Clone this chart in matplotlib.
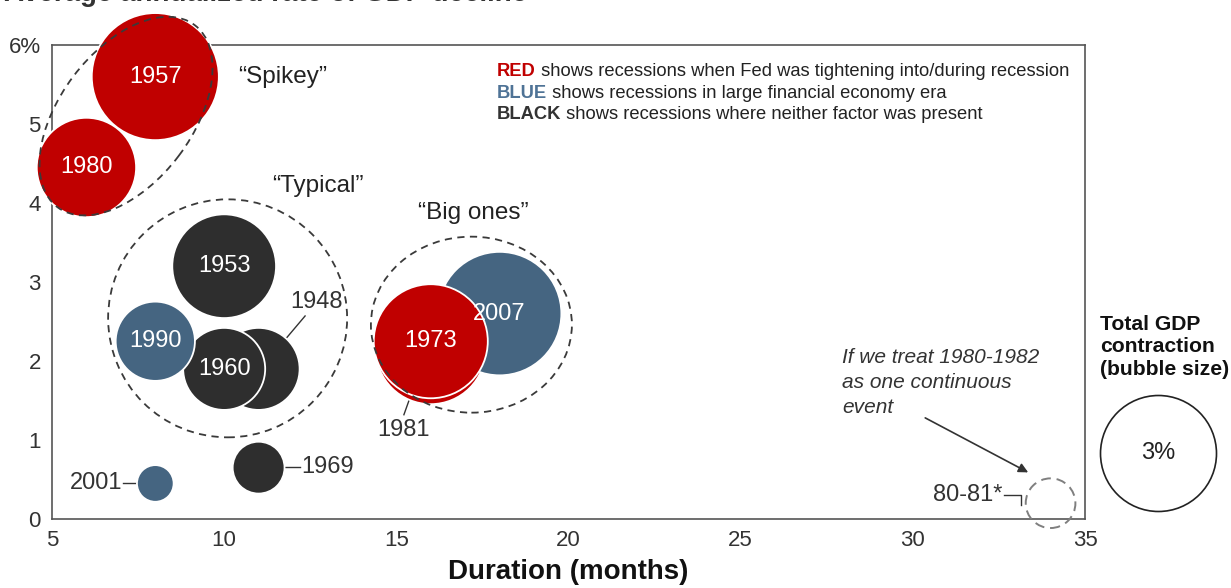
import numpy as np
import matplotlib
matplotlib.use("Agg")
import matplotlib.pyplot as plt
from matplotlib.patches import Ellipse
from matplotlib.transforms import ScaledTranslation

plt.rcParams['font.family'] = ['Liberation Sans', 'DejaVu Sans']

# Recessions, listed in drawing order (later ones sit on top)
years = ["1948", "1960", "1990", "1953", "1957", "1980", "1981", "2007", "1973", "2001", "1969"]
duration = [11, 10, 8, 10, 8, 6, 16, 18, 16, 8, 11]                        # months
rate = [1.9, 1.9, 2.25, 3.2, 5.6, 4.45, 2.15, 2.6, 2.25, 0.45, 0.65]        # avg annualized GDP decline, %
total = [1.5, 1.5, 1.4, 2.4, 3.6, 2.2, 2.7, 3.4, 2.9, 0.3, 0.6]              # total GDP contraction, %
group = ["neither", "neither", "financial", "neither", "tight", "tight",
         "tight", "financial", "tight", "financial", "neither"]
inside_label = [False, True, True, True, True, True, False, True, True, False, False]

# 1980-82 treated as a single event
combined_label = "80-81*"
combined_duration = 34
combined_rate = 0.2
combined_total = 0.55

key_total = 3.0

x_ticks = [5, 10, 15, 20, 25, 30, 35]
y_ticks = [0, 1, 2, 3, 4, 5, 6]
y_ticklabels = ["0", "1", "2", "3", "4", "5", "6%"]

palette = {"tight": "#C00000", "financial": "#456581", "neither": "#2E2E2E"}

W, H, DPI = 1231, 588, 100
fig = plt.figure(figsize=(W / DPI, H / DPI), dpi=DPI)
ax = fig.add_axes([52 / W, 1 - 519 / H, (1085 - 52) / W, (519 - 45) / H])
ax.set_xlim(5, 35)
ax.set_ylim(0, 6)

KEY_RADIUS_PX = 58.0


def marker_area(t):
    """Scatter area (pt^2) so that bubble area is proportional to total contraction."""
    r_px = KEY_RADIUS_PX * np.sqrt(np.asarray(t) / key_total)
    d_pt = 2 * r_px * 72.0 / DPI
    return d_pt ** 2


colors = [palette[g] for g in group]
ax.scatter(duration, rate, s=marker_area(total), c=colors,
           edgecolors="white", linewidths=1.3, clip_on=False, zorder=3)

for yr, x, y, show in zip(years, duration, rate, inside_label):
    if show:
        ax.text(x, y, yr, ha="center", va="center", color="white",
                fontsize=17, zorder=5)

# combined 1980-82 event: dashed outline only
ax.scatter([combined_duration], [combined_rate], s=marker_area([combined_total]),
           facecolors="none", edgecolors="#7F7F7F", linewidths=1.4,
           linestyles=(0, (5, 3)), clip_on=False, zorder=3)

# dashed rings grouping recession types (sizes in pixels, anchored in data coords)
def ring(cx, cy, w_px, h_px, angle=0.0):
    tr = fig.dpi_scale_trans + ScaledTranslation(cx, cy, ax.transData)
    e = Ellipse((0, 0), w_px / DPI, h_px / DPI, angle=angle, transform=tr,
                fill=False, ec="#3A3A3A", lw=1.3, ls=(0, (4, 3)),
                clip_on=False, zorder=4)
    ax.add_patch(e)


ring(7.15, 5.10, 228, 132, 53)
ring(10.1, 2.54, 239, 238)
ring(17.18, 2.46, 201, 176)

group_kw = dict(ha="center", va="center", fontsize=17.5, color="#222222")
ax.text(11.71, 5.59, "\u201cSpikey\u201d", **group_kw)
ax.text(12.73, 4.22, "\u201cTypical\u201d", **group_kw)
ax.text(17.23, 3.87, "\u201cBig ones\u201d", **group_kw)

# outside labels with leader lines
lab_kw = dict(fontsize=17, color="#333333", va="center")
line_kw = dict(color="#333333", lw=1.0)
ax.text(12.67, 2.75, "1948", ha="center", **lab_kw)
ax.plot([12.35, 11.71], [2.57, 2.24], **line_kw)
ax.text(15.22, 1.13, "1981", ha="center", **lab_kw)
ax.plot([15.22, 15.40], [1.32, 1.54], **line_kw)
ax.text(7.03, 0.46, "2001", ha="right", **lab_kw)
ax.plot([7.07, 7.52], [0.46, 0.46], **line_kw)
ax.text(12.23, 0.66, "1969", ha="left", **lab_kw)
ax.plot([11.75, 12.2], [0.66, 0.66], **line_kw)
ax.text(32.6, 0.30, combined_label, ha="right", **lab_kw)
ax.plot([32.66, 33.15, 33.15], [0.30, 0.30, 0.18], **line_kw)

# colour key text
key_x = 17.92
rows = [("RED", palette["tight"], " shows recessions when Fed was tightening into/during recession"),
        ("BLUE", "#4F7396", " shows recessions in large financial economy era"),
        ("BLACK", "#333333", " shows recessions where neither factor was present")]
fig.canvas.draw()
for (word, col, rest), yy in zip(rows, [5.66, 5.38, 5.12]):
    t = ax.text(key_x, yy, word, color=col, fontsize=13.2, fontweight="semibold",
                va="center", ha="left")
    bb = t.get_window_extent(renderer=fig.canvas.get_renderer())
    x_end = ax.transData.inverted().transform((bb.x1, 0))[0]
    ax.text(x_end, yy, rest, color="#222222", fontsize=13.2, va="center", ha="left")

# note with arrow toward the combined event
ax.text(27.95, 1.73, "If we treat 1980-1982\nas one continuous\nevent", ha="left",
        va="center", fontsize=15, style="italic", color="#333333", linespacing=1.38)
ax.annotate("", xy=(33.35, 0.59), xytext=(30.36, 1.28),
            arrowprops=dict(arrowstyle="-|>", color="#333333", lw=1.2,
                            mutation_scale=14, shrinkA=0, shrinkB=0))

# bubble size key
ax.text(35.44, 2.18, "Total GDP\ncontraction\n(bubble size)", ha="left", va="center",
        fontsize=15.2, fontweight="bold", color="#111111", linespacing=1.22)
ax.scatter([37.12], [0.835], s=marker_area([key_total]), facecolors="white",
           edgecolors="#222222", linewidths=1.2, clip_on=False, zorder=3)
ax.text(37.12, 0.835, f"{key_total:.0f}%", ha="center", va="center",
        fontsize=17, color="#222222")

# axes styling
for side in ["top", "right", "left", "bottom"]:
    ax.spines[side].set_color("#555555")
    ax.spines[side].set_linewidth(1.2)
ax.set_xticks(x_ticks)
ax.set_yticks(y_ticks)
ax.set_yticklabels(y_ticklabels)
ax.tick_params(length=0, labelsize=16, labelcolor="#333333", pad=8)
ax.set_xlabel("Duration (months)", fontsize=20, fontweight="bold",
              color="#111111", labelpad=6)

fig.text(4 / W, 1 - 1 / H, "Average annualized rate of GDP decline", fontsize=20,
         fontweight="bold", color="#333333", va="baseline", ha="left")

fig.savefig("out.png", dpi=DPI, facecolor="white")
